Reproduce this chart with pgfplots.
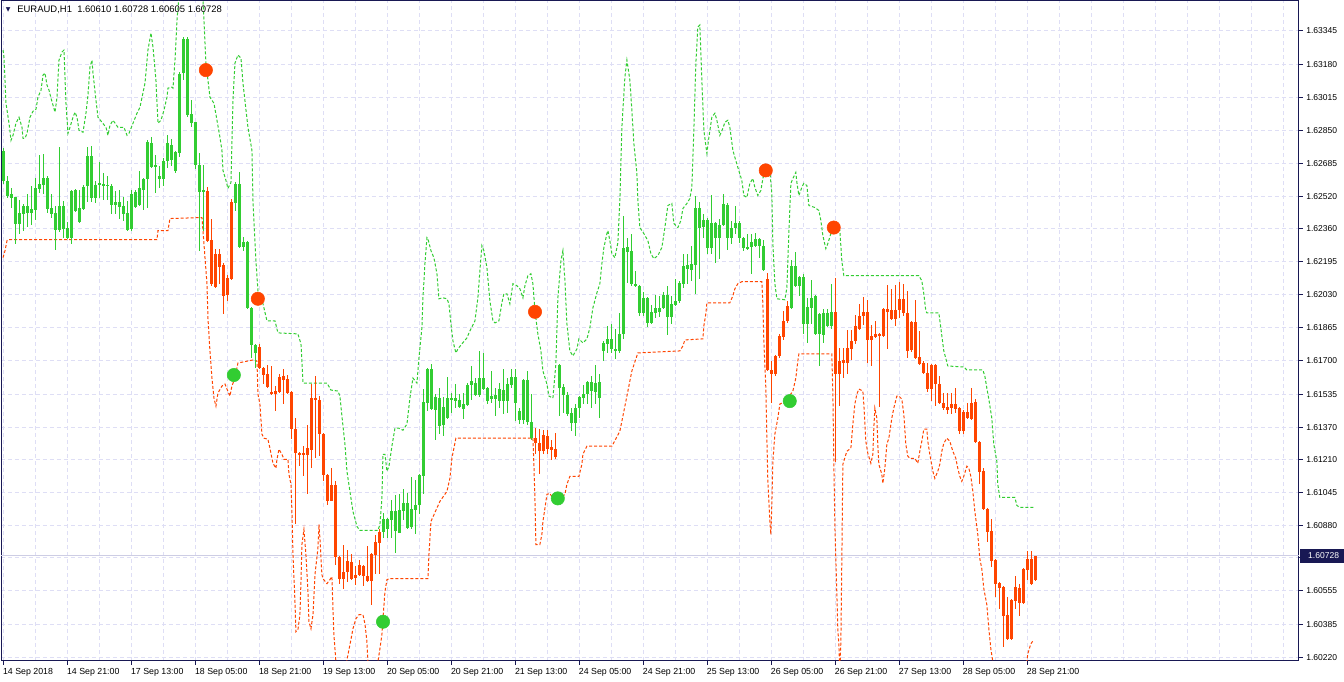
\documentclass[border=0pt]{standalone}
\usepackage{fontspec}
\setmainfont{Liberation Sans}
\newfontfamily\dejavu{DejaVu Sans}
\usepackage{pgfplots}
\usepackage{pgfplotstable}
\pgfplotsset{compat=1.18}
\definecolor{up}{RGB}{50,205,50}
\definecolor{dn}{RGB}{255,69,0}
\definecolor{gridc}{RGB}{222,222,245}
\definecolor{frame}{RGB}{24,24,84}
\definecolor{pricec}{RGB}{205,205,228}

\pgfplotstableread{
o h l c g
1.62595 1.62760 1.62585 1.62745 1
1.62525 1.62625 1.62515 1.62600 1
1.62515 1.62565 1.62465 1.62535 1
1.62385 1.62520 1.62285 1.62520 1
1.62385 1.62505 1.62335 1.62440 1
1.62435 1.62485 1.62350 1.62475 1
1.62440 1.62535 1.62370 1.62475 1
1.62440 1.62575 1.62380 1.62460 1
1.62455 1.62615 1.62405 1.62565 1
1.62560 1.62725 1.62535 1.62585 1
1.62580 1.62735 1.62535 1.62615 1
1.62460 1.62625 1.62440 1.62615 1
1.62435 1.62535 1.62415 1.62465 1
1.62355 1.62475 1.62255 1.62440 1
1.62355 1.62765 1.62345 1.62475 1
1.62360 1.62500 1.62315 1.62475 1
1.62315 1.62395 1.62310 1.62365 1
1.62315 1.62555 1.62285 1.62545 1
1.62450 1.62560 1.62445 1.62550 1
1.62395 1.62555 1.62390 1.62465 1
1.62460 1.62580 1.62455 1.62570 1
1.62570 1.62770 1.62495 1.62720 1
1.62515 1.62770 1.62490 1.62725 1
1.62515 1.62600 1.62490 1.62580 1
1.62575 1.62690 1.62515 1.62585 1
1.62570 1.62640 1.62505 1.62580 1
1.62575 1.62625 1.62505 1.62580 1
1.62480 1.62585 1.62435 1.62575 1
1.62480 1.62545 1.62435 1.62490 1
1.62470 1.62555 1.62410 1.62495 1
1.62435 1.62520 1.62400 1.62475 1
1.62355 1.62500 1.62350 1.62440 1
1.62360 1.62555 1.62350 1.62535 1
1.62470 1.62555 1.62465 1.62540 1
1.62480 1.62650 1.62475 1.62560 1
1.62555 1.62615 1.62455 1.62610 1
1.62610 1.62805 1.62465 1.62795 1
1.62670 1.62820 1.62665 1.62790 1
1.62670 1.62730 1.62540 1.62680 1
1.62610 1.62670 1.62565 1.62625 1
1.62610 1.62710 1.62575 1.62700 1
1.62695 1.62825 1.62665 1.62785 1
1.62705 1.62810 1.62675 1.62780 1
1.62645 1.62750 1.62640 1.62740 1
1.62735 1.63140 1.62715 1.63130 1
1.63135 1.63315 1.63100 1.63305 1
1.62925 1.63315 1.62920 1.63305 1
1.62885 1.63000 1.62865 1.62930 1
1.62675 1.62895 1.62660 1.62890 1
1.62545 1.62735 1.62250 1.62680 1
1.62545 1.62680 1.62350 1.62555 1
1.62550 1.62565 1.62295 1.62300 0
1.62305 1.62410 1.62075 1.62085 0
1.62235 1.62260 1.62065 1.62070 0
1.62235 1.62260 1.62085 1.62170 0
1.62180 1.62190 1.61935 1.62025 0
1.62115 1.62130 1.62000 1.62030 0
1.62495 1.62505 1.62105 1.62110 0
1.62490 1.62590 1.62450 1.62585 1
1.62270 1.62645 1.62265 1.62585 1
1.62270 1.62320 1.62250 1.62295 1
1.61965 1.62300 1.61960 1.62295 1
1.61780 1.61970 1.61715 1.61965 1
1.61740 1.61785 1.61665 1.61780 1
1.61770 1.61785 1.61660 1.61665 0
1.61665 1.61670 1.61585 1.61630 0
1.61635 1.61680 1.61565 1.61570 0
1.61545 1.61675 1.61530 1.61535 0
1.61550 1.61575 1.61450 1.61535 0
1.61620 1.61635 1.61540 1.61545 0
1.61625 1.61660 1.61485 1.61605 0
1.61610 1.61630 1.61535 1.61540 0
1.61545 1.61550 1.61310 1.61360 0
1.61360 1.61415 1.60885 1.61240 0
1.61240 1.61245 1.61175 1.61230 0
1.61240 1.61275 1.61125 1.61230 0
1.61265 1.61380 1.61040 1.61230 0
1.61515 1.61585 1.61165 1.61260 0
1.61515 1.61625 1.61215 1.61505 0
1.61505 1.61525 1.61225 1.61335 0
1.61335 1.61340 1.61100 1.61135 0
1.61135 1.61140 1.60985 1.61005 0
1.61085 1.61165 1.61000 1.61005 0
1.61085 1.61100 1.60685 1.60725 0
1.60725 1.60730 1.60590 1.60615 0
1.60650 1.60785 1.60565 1.60615 0
1.60705 1.60760 1.60600 1.60650 0
1.60700 1.60740 1.60610 1.60615 0
1.60635 1.60680 1.60585 1.60620 0
1.60685 1.60710 1.60630 1.60635 0
1.60680 1.60685 1.60580 1.60630 0
1.60630 1.60780 1.60600 1.60605 0
1.60740 1.60745 1.60485 1.60605 0
1.60800 1.60835 1.60640 1.60735 0
1.60850 1.60860 1.60640 1.60795 0
1.60850 1.60945 1.60820 1.60915 1
1.60865 1.60920 1.60820 1.60915 1
1.60910 1.61005 1.60820 1.60955 1
1.60850 1.61035 1.60745 1.60950 1
1.60845 1.61035 1.60840 1.60960 1
1.60955 1.61065 1.60910 1.60995 1
1.60870 1.61040 1.60860 1.60995 1
1.60870 1.61120 1.60865 1.60960 1
1.60960 1.61105 1.60835 1.60985 1
1.60985 1.61135 1.60940 1.61130 1
1.61125 1.61560 1.61040 1.61495 1
1.61490 1.61665 1.61450 1.61660 1
1.61460 1.61685 1.61455 1.61660 1
1.61455 1.61535 1.61305 1.61520 1
1.61375 1.61565 1.61335 1.61515 1
1.61380 1.61520 1.61325 1.61470 1
1.61415 1.61620 1.61410 1.61515 1
1.61510 1.61540 1.61440 1.61515 1
1.61500 1.61585 1.61465 1.61515 1
1.61470 1.61535 1.61465 1.61505 1
1.61460 1.61540 1.61410 1.61485 1
1.61480 1.61590 1.61475 1.61580 1
1.61580 1.61675 1.61505 1.61600 1
1.61530 1.61615 1.61525 1.61590 1
1.61530 1.61750 1.61520 1.61615 1
1.61560 1.61740 1.61555 1.61615 1
1.61500 1.61570 1.61485 1.61565 1
1.61510 1.61650 1.61490 1.61525 1
1.61510 1.61565 1.61425 1.61530 1
1.61500 1.61590 1.61465 1.61560 1
1.61500 1.61660 1.61435 1.61555 1
1.61500 1.61615 1.61440 1.61585 1
1.61580 1.61660 1.61565 1.61620 1
1.61490 1.61660 1.61400 1.61620 1
1.61405 1.61465 1.61385 1.61450 1
1.61405 1.61610 1.61385 1.61605 1
1.61395 1.61650 1.61380 1.61605 1
1.61315 1.61535 1.61310 1.61395 1
1.61315 1.61365 1.61235 1.61290 0
1.61290 1.61360 1.61140 1.61250 0
1.61330 1.61355 1.61240 1.61250 0
1.61325 1.61355 1.61240 1.61260 0
1.61270 1.61305 1.61205 1.61255 0
1.61260 1.61340 1.61215 1.61220 0
1.61565 1.61685 1.61425 1.61680 1
1.61530 1.61585 1.61440 1.61570 1
1.61435 1.61545 1.61425 1.61530 1
1.61390 1.61465 1.61350 1.61440 1
1.61390 1.61485 1.61325 1.61465 1
1.61465 1.61525 1.61415 1.61520 1
1.61515 1.61580 1.61485 1.61535 1
1.61535 1.61600 1.61485 1.61595 1
1.61550 1.61625 1.61465 1.61595 1
1.61545 1.61680 1.61485 1.61590 1
1.61515 1.61635 1.61415 1.61595 1
1.61750 1.61800 1.61700 1.61790 1
1.61785 1.61875 1.61740 1.61810 1
1.61760 1.61885 1.61740 1.61810 1
1.61750 1.61860 1.61710 1.61760 1
1.61750 1.61940 1.61740 1.61835 1
1.61835 1.62425 1.61810 1.62265 1
1.62245 1.62315 1.62090 1.62270 1
1.62085 1.62335 1.62075 1.62250 1
1.62075 1.62150 1.62070 1.62085 1
1.61940 1.62080 1.61925 1.62075 1
1.61940 1.62045 1.61925 1.62015 1
1.61890 1.62020 1.61870 1.62015 1
1.61890 1.61980 1.61885 1.61945 1
1.61940 1.62030 1.61915 1.61965 1
1.61945 1.62025 1.61920 1.61965 1
1.61965 1.62045 1.61960 1.62030 1
1.61920 1.62075 1.61830 1.62030 1
1.61920 1.62025 1.61885 1.61985 1
1.61980 1.62110 1.61975 1.62000 1
1.62000 1.62100 1.61990 1.62090 1
1.62085 1.62235 1.62065 1.62175 1
1.62160 1.62235 1.62085 1.62180 1
1.62155 1.62275 1.62100 1.62185 1
1.62180 1.62525 1.62035 1.62465 1
1.62365 1.62495 1.62110 1.62465 1
1.62365 1.62435 1.62315 1.62400 1
1.62265 1.62415 1.62235 1.62405 1
1.62265 1.62525 1.62235 1.62390 1
1.62315 1.62395 1.62190 1.62390 1
1.62315 1.62410 1.62210 1.62380 1
1.62380 1.62535 1.62375 1.62485 1
1.62315 1.62490 1.62255 1.62480 1
1.62315 1.62400 1.62285 1.62365 1
1.62365 1.62475 1.62335 1.62390 1
1.62315 1.62400 1.62290 1.62390 1
1.62265 1.62320 1.62250 1.62315 1
1.62260 1.62335 1.62255 1.62270 1
1.62270 1.62335 1.62135 1.62295 1
1.62275 1.62340 1.62270 1.62310 1
1.62275 1.62315 1.62215 1.62310 1
1.62155 1.62305 1.62150 1.62275 1
1.62110 1.62140 1.61650 1.61655 0
1.61655 1.61700 1.61490 1.61635 0
1.61725 1.61730 1.61625 1.61635 0
1.61825 1.61835 1.61715 1.61725 0
1.61900 1.61950 1.61805 1.61820 0
1.61975 1.62000 1.61890 1.61900 0
1.61965 1.62205 1.61960 1.62175 1
1.62075 1.62245 1.62070 1.62175 1
1.62075 1.62125 1.62025 1.62120 1
1.61885 1.62135 1.61835 1.62120 1
1.61885 1.62015 1.61790 1.61970 1
1.61965 1.62105 1.61885 1.62015 1
1.61835 1.62030 1.61830 1.62025 1
1.61835 1.61940 1.61675 1.61935 1
1.61830 1.61960 1.61790 1.61940 1
1.61875 1.61960 1.61870 1.61940 1
1.61875 1.62085 1.61860 1.61945 1
1.61945 1.62115 1.61200 1.61635 0
1.61700 1.61765 1.61475 1.61635 0
1.61705 1.61765 1.61615 1.61690 0
1.61765 1.61855 1.61635 1.61690 0
1.61800 1.61855 1.61705 1.61760 0
1.61875 1.61930 1.61785 1.61800 0
1.61925 1.61985 1.61855 1.61860 0
1.61945 1.62020 1.61880 1.61925 0
1.61945 1.62005 1.61690 1.61805 0
1.61825 1.61880 1.61675 1.61805 0
1.61835 1.61900 1.61815 1.61820 0
1.61835 1.61840 1.61470 1.61825 0
1.61960 1.61965 1.61820 1.61825 0
1.61960 1.62080 1.61760 1.61945 0
1.61955 1.62060 1.61905 1.61910 0
1.61955 1.62080 1.61875 1.61910 0
1.62010 1.62095 1.61915 1.61955 0
1.62010 1.62085 1.61925 1.61940 0
1.61940 1.62050 1.61715 1.61750 0
1.61895 1.61900 1.61745 1.61755 0
1.61895 1.62005 1.61710 1.61715 0
1.61720 1.61850 1.61680 1.61685 0
1.61690 1.61700 1.61635 1.61640 0
1.61640 1.61690 1.61545 1.61560 0
1.61680 1.61685 1.61500 1.61560 0
1.61680 1.61685 1.61475 1.61585 0
1.61585 1.61625 1.61485 1.61490 0
1.61490 1.61540 1.61455 1.61465 0
1.61470 1.61540 1.61435 1.61455 0
1.61485 1.61540 1.61435 1.61465 0
1.61485 1.61565 1.61440 1.61460 0
1.61465 1.61470 1.61335 1.61350 0
1.61445 1.61455 1.61335 1.61350 0
1.61445 1.61490 1.61410 1.61415 0
1.61490 1.61565 1.61405 1.61410 0
1.61495 1.61510 1.61290 1.61295 0
1.61295 1.61300 1.61090 1.61145 0
1.61150 1.61165 1.60955 1.60960 0
1.60965 1.60970 1.60800 1.60850 0
1.60855 1.60915 1.60675 1.60705 0
1.60710 1.60715 1.60525 1.60590 0
1.60595 1.60600 1.60465 1.60570 0
1.60575 1.60580 1.60275 1.60430 0
1.60435 1.60525 1.60310 1.60315 0
1.60510 1.60515 1.60310 1.60315 0
1.60575 1.60630 1.60465 1.60505 0
1.60570 1.60590 1.60430 1.60495 0
1.60665 1.60670 1.60490 1.60495 0
1.60715 1.60755 1.60610 1.60660 0
1.60715 1.60755 1.60585 1.60590 0
1.60610 1.60728 1.60605 1.60728 0
}\candles

\pgfplotstableread{
x y
-0.12 1.63250
0.12 1.63215
0.62 1.62985
1.38 1.62885
1.88 1.62800
2.38 1.62825
3.12 1.62885
3.88 1.62915
4.62 1.62865
4.88 1.62810
5.38 1.62810
5.88 1.62835
6.62 1.62915
7.38 1.62945
8.12 1.62955
8.62 1.63015
9.38 1.63050
9.88 1.63125
10.38 1.63135
10.88 1.63075
11.38 1.63050
11.88 1.63010
12.38 1.62975
12.88 1.62940
13.38 1.63015
13.88 1.63200
14.62 1.63240
15.12 1.63250
15.62 1.62985
16.12 1.62835
16.62 1.62865
17.38 1.62915
17.88 1.62940
18.38 1.62915
18.88 1.62850
19.88 1.62840
20.62 1.62935
21.12 1.63025
21.62 1.63165
22.12 1.63200
22.38 1.63135
23.12 1.63000
23.62 1.62915
24.62 1.62890
25.62 1.62865
26.12 1.62825
26.62 1.62875
27.38 1.62900
28.62 1.62865
30.12 1.62865
30.88 1.62825
31.38 1.62835
32.38 1.62885
33.38 1.62935
34.12 1.62965
35.38 1.63085
36.12 1.63250
36.88 1.63335
37.38 1.63265
38.12 1.63100
38.62 1.62885
39.38 1.62900
40.12 1.62950
40.88 1.63015
41.12 1.63060
42.12 1.63065
42.38 1.63060
42.88 1.63200
43.38 1.63400
44.12 1.63575
46.62 1.63625
49.12 1.63550
49.88 1.63500
50.62 1.63185
51.62 1.63015
52.62 1.62985
53.38 1.62900
54.12 1.62815
54.62 1.62750
54.88 1.62650
55.62 1.62600
56.12 1.62560
56.88 1.62590
57.38 1.63000
57.88 1.63185
58.62 1.63225
59.38 1.63210
59.88 1.63085
61.12 1.62865
62.12 1.62750
62.38 1.62500
63.12 1.62200
63.62 1.62050
64.88 1.61985
65.88 1.61900
67.88 1.61900
68.62 1.61840
73.62 1.61835
74.38 1.61785
74.62 1.61700
74.88 1.61590
80.88 1.61590
81.88 1.61555
83.62 1.61550
84.12 1.61525
84.62 1.61425
85.38 1.61285
85.88 1.61150
86.62 1.61050
87.38 1.60950
88.38 1.60875
89.12 1.60855
93.62 1.60855
94.12 1.60885
94.62 1.61015
94.88 1.61235
95.38 1.61235
95.88 1.61150
96.38 1.61175
97.12 1.61275
97.88 1.61365
98.88 1.61365
99.88 1.61355
100.88 1.61385
101.62 1.61515
102.38 1.61615
103.38 1.61590
103.88 1.61715
104.62 1.61865
104.88 1.62015
105.38 1.62185
105.88 1.62315
106.12 1.62310
106.88 1.62250
107.62 1.62215
108.38 1.62135
108.88 1.62010
109.88 1.62015
110.88 1.62010
111.38 1.61985
111.88 1.61885
112.38 1.61800
113.12 1.61740
113.62 1.61760
114.62 1.61785
115.88 1.61815
116.62 1.61850
117.88 1.61900
118.62 1.62015
119.12 1.62150
119.62 1.62275
120.12 1.62250
120.88 1.62165
121.62 1.62000
122.38 1.61900
122.88 1.61890
123.88 1.61900
124.62 1.61990
125.12 1.62035
125.88 1.62035
126.62 1.61985
127.38 1.62085
128.38 1.62075
129.12 1.62060
129.88 1.62015
130.38 1.62075
131.12 1.62125
131.88 1.62135
132.38 1.62085
132.88 1.61950
133.62 1.61835
134.38 1.61750
134.88 1.61650
135.88 1.61585
136.38 1.61525
137.38 1.61515
138.12 1.61685
138.62 1.62015
139.38 1.62200
139.88 1.62250
140.38 1.62100
140.88 1.61885
141.62 1.61750
142.38 1.61725
143.38 1.61760
143.88 1.61810
144.88 1.61790
145.88 1.61810
146.62 1.61865
147.38 1.61965
148.38 1.62040
149.12 1.62085
149.62 1.62185
150.12 1.62265
150.88 1.62335
151.12 1.62350
151.62 1.62300
152.12 1.62235
152.88 1.62215
153.62 1.62290
154.12 1.62500
154.62 1.62865
155.38 1.63115
155.88 1.63200
156.62 1.63100
157.12 1.62950
157.62 1.62785
158.38 1.62635
158.62 1.62500
159.12 1.62365
160.12 1.62335
161.12 1.62300
161.88 1.62235
162.62 1.62210
163.62 1.62225
164.62 1.62265
165.38 1.62365
166.12 1.62475
167.12 1.62485
167.62 1.62385
168.62 1.62365
169.38 1.62400
169.88 1.62460
170.88 1.62485
171.62 1.62510
172.12 1.62565
172.62 1.62850
173.12 1.63185
173.62 1.63365
174.12 1.63375
174.62 1.63100
175.12 1.62850
175.88 1.62735
176.38 1.62815
177.12 1.62915
177.88 1.62935
178.38 1.62900
179.12 1.62825
179.88 1.62860
180.38 1.62890
181.12 1.62900
181.62 1.62865
182.38 1.62750
182.88 1.62715
183.62 1.62665
184.62 1.62600
185.12 1.62525
185.88 1.62515
186.62 1.62585
187.38 1.62610
187.88 1.62565
188.62 1.62525
189.38 1.62550
189.88 1.62610
190.38 1.62640
191.12 1.62650
191.62 1.62645
192.12 1.62535
192.38 1.62285
192.88 1.62085
193.38 1.62010
195.38 1.62005
195.88 1.62065
196.38 1.62340
196.88 1.62585
197.38 1.62610
198.12 1.62640
198.38 1.62590
198.88 1.62525
199.62 1.62565
200.12 1.62585
200.88 1.62575
201.38 1.62475
202.88 1.62465
203.88 1.62450
204.38 1.62400
204.88 1.62325
205.62 1.62260
206.12 1.62285
206.88 1.62335
207.88 1.62350
209.12 1.62350
209.62 1.62200
210.12 1.62125
228.88 1.62125
229.62 1.62100
230.12 1.62035
230.62 1.61950
230.88 1.61940
233.88 1.61940
235.12 1.61750
236.12 1.61675
240.12 1.61670
240.88 1.61655
244.88 1.61655
245.38 1.61625
245.88 1.61565
246.38 1.61510
247.12 1.61415
247.62 1.61285
248.38 1.61200
248.62 1.61085
249.12 1.61020
252.88 1.61020
253.38 1.60980
254.12 1.60970
257.62 1.60970
}\greenline

\pgfplotstableread{
x y
-0.12 1.62215
0.38 1.62250
0.88 1.62300
1.12 1.62305
38.38 1.62305
38.62 1.62350
41.12 1.62350
41.62 1.62410
49.62 1.62415
49.88 1.62350
50.38 1.62215
50.88 1.62085
51.12 1.61915
51.62 1.61750
52.12 1.61615
52.62 1.61515
53.12 1.61475
53.62 1.61540
54.62 1.61575
55.38 1.61585
55.88 1.61560
56.62 1.61525
57.12 1.61575
57.88 1.61615
58.62 1.61690
61.12 1.61700
62.38 1.61705
63.38 1.61700
63.62 1.61535
64.12 1.61485
64.62 1.61335
65.12 1.61315
66.12 1.61310
66.62 1.61265
67.12 1.61215
67.38 1.61190
68.12 1.61165
68.38 1.61210
68.88 1.61260
69.62 1.61235
70.12 1.61210
71.12 1.61210
71.38 1.61135
71.88 1.61085
72.12 1.60950
72.38 1.60735
72.88 1.60500
73.12 1.60350
73.62 1.60360
74.12 1.60435
74.38 1.60600
74.62 1.60785
75.12 1.60860
75.62 1.60735
76.12 1.60550
76.38 1.60400
76.88 1.60365
77.38 1.60435
77.88 1.60635
78.62 1.60765
78.88 1.60885
79.12 1.60815
79.62 1.60635
79.88 1.60615
80.88 1.60590
81.62 1.60610
82.12 1.60625
82.38 1.60465
82.62 1.60335
83.12 1.60200
84.12 1.60050
85.38 1.60100
85.88 1.60210
86.62 1.60285
87.38 1.60365
88.12 1.60415
88.88 1.60435
89.88 1.60435
90.38 1.60390
90.88 1.60300
91.12 1.60200
92.12 1.60050
93.12 1.60100
93.62 1.60200
94.12 1.60265
94.62 1.60335
94.88 1.60415
95.38 1.60550
95.88 1.60610
96.62 1.60615
106.12 1.60615
106.38 1.60735
106.88 1.60900
109.12 1.61000
110.88 1.61050
111.62 1.61115
112.12 1.61215
113.12 1.61315
132.38 1.61315
132.62 1.61185
132.88 1.61015
133.12 1.60785
134.12 1.60785
134.62 1.60835
134.88 1.60900
135.38 1.60965
135.88 1.61035
136.62 1.61040
137.38 1.61015
139.12 1.61015
140.38 1.61035
140.88 1.61085
141.62 1.61125
143.88 1.61125
144.62 1.61185
144.88 1.61235
145.88 1.61275
152.12 1.61275
154.12 1.61350
155.38 1.61475
157.12 1.61650
158.62 1.61740
169.12 1.61750
169.88 1.61775
170.38 1.61805
174.88 1.61810
175.12 1.61875
175.62 1.61935
175.88 1.61990
181.62 1.61990
182.38 1.62025
182.88 1.62060
183.62 1.62085
184.62 1.62095
189.62 1.62095
189.88 1.61985
190.12 1.61800
190.62 1.61565
190.88 1.61315
191.12 1.61100
191.62 1.60900
191.88 1.60835
192.12 1.60985
192.38 1.61200
192.88 1.61335
193.62 1.61415
194.12 1.61485
194.62 1.61490
195.62 1.61500
197.38 1.61550
198.12 1.61615
198.62 1.61700
198.88 1.61735
207.12 1.61735
207.38 1.61535
207.62 1.61200
207.88 1.60880
208.38 1.60535
208.62 1.60365
208.88 1.60285
209.12 1.60150
209.38 1.60300
209.62 1.60700
209.88 1.61185
210.88 1.61250
211.88 1.61265
212.38 1.61385
212.88 1.61485
213.38 1.61535
213.88 1.61560
214.88 1.61550
215.12 1.61485
215.62 1.61300
216.12 1.61240
216.88 1.61190
217.38 1.61235
217.62 1.61365
217.88 1.61465
218.38 1.61415
218.62 1.61285
218.88 1.61185
219.62 1.61135
219.88 1.61090
220.38 1.61165
220.88 1.61285
221.38 1.61315
222.12 1.61415
222.62 1.61465
223.38 1.61525
223.88 1.61525
224.62 1.61510
225.12 1.61435
225.62 1.61285
226.12 1.61225
226.62 1.61215
227.88 1.61215
228.62 1.61190
229.12 1.61250
229.62 1.61300
230.12 1.61360
230.88 1.61360
231.12 1.61300
231.62 1.61235
232.38 1.61150
232.88 1.61115
233.62 1.61150
234.12 1.61185
234.62 1.61250
235.12 1.61290
235.88 1.61315
236.62 1.61300
237.38 1.61250
238.12 1.61215
238.62 1.61165
239.12 1.61125
239.62 1.61100
240.12 1.61125
240.88 1.61175
241.38 1.61165
241.88 1.61125
242.38 1.61050
242.88 1.60950
243.62 1.60835
244.12 1.60715
244.62 1.60665
245.12 1.60565
245.88 1.60485
246.38 1.60365
246.88 1.60265
247.38 1.60200
249.12 1.60000
254.12 1.60000
255.88 1.60200
256.12 1.60240
256.88 1.60290
257.62 1.60310
}\redline

\begin{document}
\begin{tikzpicture}
\fill[white] (0,0) rectangle (1008pt,511.5pt);
\begin{axis}[
  at={(0.75pt,15.75pt)}, anchor=south west, scale only axis,
  width=973.5pt, height=495pt,
  xmin=-0.625, xmax=323.875, ymin=1.60205, ymax=1.634945,
  axis line style={draw=frame, line width=0.75pt},
  clip=true,
  tick align=outside,
  major tick length=3pt,
  tick style={draw=frame, line width=0.75pt},
  xtick pos=bottom, ytick pos=right,
  yticklabel pos=right,
  xtick={0,16,...,256},
  xticklabels={14 Sep 2018,14 Sep 21:00,17 Sep 13:00,18 Sep 05:00,18 Sep 21:00,19 Sep 13:00,20 Sep 05:00,20 Sep 21:00,21 Sep 13:00,24 Sep 05:00,24 Sep 21:00,25 Sep 13:00,26 Sep 05:00,26 Sep 21:00,27 Sep 13:00,28 Sep 05:00,28 Sep 21:00},
  minor xtick={8,24,40,56,72,88,104,120,136,152,168,184,200,216,232,248,264,272,280,288,296,304,312,320},
  minor tick length=0pt,
  ytick={1.60220,1.60385,1.60555,1.60720,1.60880,1.61045,1.61210,1.61370,1.61535,1.61700,1.61865,1.62030,1.62195,1.62360,1.62520,1.62685,1.62850,1.63015,1.63180,1.63345},
  yticklabels={1.60220,1.60385,1.60555,1.60720,1.60880,1.61045,1.61210,1.61370,1.61535,1.61700,1.61865,1.62030,1.62195,1.62360,1.62520,1.62685,1.62850,1.63015,1.63180,1.63345},
  xmajorgrids, ymajorgrids, xminorgrids,
  major grid style={draw=gridc, line width=0.75pt, dash pattern=on 3pt off 2.25pt},
  minor grid style={draw=gridc, line width=0.75pt, dash pattern=on 3pt off 2.25pt},
  xticklabel style={anchor=north west, inner sep=0pt, xshift=-0.5pt, yshift=-2.5pt, font=\fontsize{6.6pt}{7pt}\selectfont},
  yticklabel style={anchor=west, inner sep=0pt, xshift=2.5pt, font=\fontsize{6.4pt}{7pt}\selectfont},
]
% current price line
\addplot[pricec, line width=0.75pt, forget plot] coordinates {(-1,1.60728) (330,1.60728)};
% indicator bands
\addplot[up, line width=0.75pt, dash pattern=on 2.25pt off 1.5pt, forget plot] table[x=x,y=y] {\greenline};
\addplot[dn, line width=0.75pt, dash pattern=on 2.25pt off 1.5pt, forget plot] table[x=x,y=y] {\redline};
% wicks
\addplot[draw=none, mark=none, forget plot, error bars/.cd, y dir=both, y explicit, error mark=none,
  error bar style={draw=up, line width=0.75pt}]
  table[x expr=\coordindex, y expr={\thisrow{g}>0 ? (\thisrow{h}+\thisrow{l})/2 : nan}, y error expr={(\thisrow{h}-\thisrow{l})/2}] {\candles};
\addplot[draw=none, mark=none, forget plot, error bars/.cd, y dir=both, y explicit, error mark=none,
  error bar style={draw=dn, line width=0.75pt}]
  table[x expr=\coordindex, y expr={\thisrow{g}<1 ? (\thisrow{h}+\thisrow{l})/2 : nan}, y error expr={(\thisrow{h}-\thisrow{l})/2}] {\candles};
% bodies
\addplot[draw=none, mark=none, forget plot, error bars/.cd, y dir=both, y explicit, error mark=none,
  error bar style={draw=up, line width=2.25pt}]
  table[x expr=\coordindex, y expr={\thisrow{g}>0 ? (\thisrow{o}+\thisrow{c})/2 : nan}, y error expr={abs(\thisrow{o}-\thisrow{c})/2}] {\candles};
\addplot[draw=none, mark=none, forget plot, error bars/.cd, y dir=both, y explicit, error mark=none,
  error bar style={draw=dn, line width=2.25pt}]
  table[x expr=\coordindex, y expr={\thisrow{g}<1 ? (\thisrow{o}+\thisrow{c})/2 : nan}, y error expr={abs(\thisrow{o}-\thisrow{c})/2}] {\candles};
% signal circles
\addplot[only marks, mark=*, mark size=5pt, mark options={fill=dn, draw=dn}, forget plot]
  coordinates {(50.6,1.63150) (63.6,1.62010) (132.9,1.61945) (190.6,1.62650) (207.6,1.62365)};
\addplot[only marks, mark=*, mark size=5pt, mark options={fill=up, draw=up}, forget plot]
  coordinates {(57.6,1.61630) (94.9,1.60400) (138.6,1.61015) (196.6,1.61500)};
\coordinate (pl) at (axis cs:323.875,1.60728);
\end{axis}
\node[anchor=west, fill=frame, text=white, inner sep=0pt, minimum height=10.5pt, minimum width=33pt, font=\fontsize{6.4pt}{7pt}\selectfont] at ([xshift=0.75pt]pl) {\hspace*{2.4pt}1.60728\hfill};
\node[inner sep=0pt, text=frame] at (6.2pt,504pt) {\dejavu\fontsize{4.5pt}{5pt}\selectfont ▼};
\node[anchor=west, inner sep=0pt, text=black] at (12.8pt,504pt) {\fontsize{7.1pt}{8pt}\selectfont EURAUD,H1\ \ 1.60610 1.60728 1.60605 1.60728};
\end{tikzpicture}
\end{document}
